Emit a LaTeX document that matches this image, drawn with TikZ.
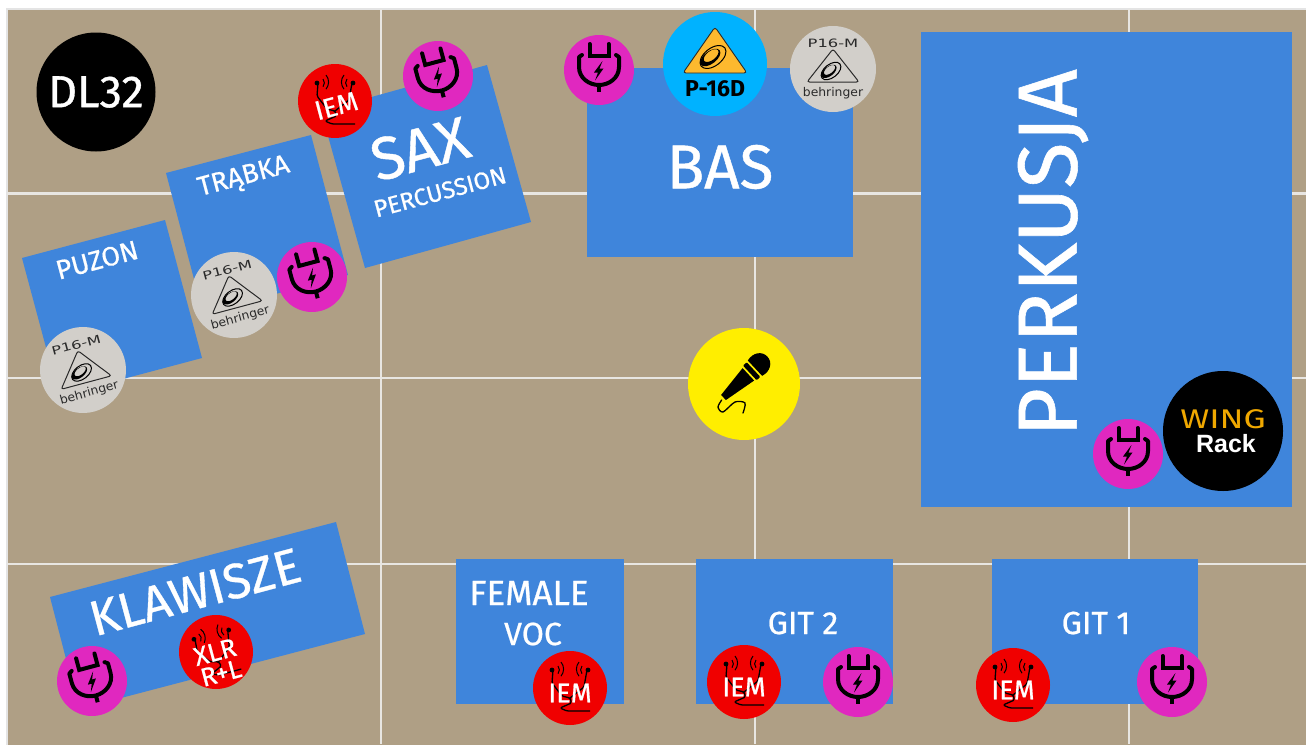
\documentclass[tikz,border=0pt]{standalone}
\usepackage{fontspec}
\setmainfont{Fira Sans}
\newfontfamily\firab[FakeBold=0.7]{Fira Sans}
\newfontfamily\lsans{Liberation Sans}
\newfontfamily\dsans{DejaVu Sans}
\newcommand\fz[1]{\fontsize{#1}{#1}\selectfont}
\definecolor{floorc}{HTML}{AF9F85}
\definecolor{gridc}{HTML}{E8E6E2}
\definecolor{framec}{HTML}{E4E4E4}
\definecolor{bluec}{HTML}{3F85DB}
\definecolor{magc}{HTML}{E028BF}
\definecolor{redc}{HTML}{F00000}
\definecolor{discc}{HTML}{D2CFCA}
\definecolor{cyanc}{HTML}{00B2FF}
\definecolor{yelc}{HTML}{FFEE00}
\definecolor{orangec}{HTML}{FDB92E}
\definecolor{wingc}{HTML}{F0A800}
\definecolor{darkc}{HTML}{2A2A2A}
\tikzset{
  gridline/.style={draw=gridc,line width=2.4pt},
  stagebox/.style={fill=bluec,draw=none},
  stagetext/.style={text=white,inner sep=0pt,font=\firab\fz{#1}},
  round/.style={circle,draw=none,inner sep=0pt,minimum size=#1,transform shape},
  plug/.pic={
    \node[round=70pt,fill=magc] (-disc) at (0,0) {};
    \draw[line width=4pt,line cap=round] (-9.5,-26)--(-9.5,-14)--(9.5,-14)--(9.5,-26);
    \draw[line width=4pt,line join=round,line cap=round] (-17,-15)--(-20,-13)--(-20,-3)
      .. controls (-20,8) and (-10,15) .. (0,15)
      .. controls (10,15) and (20,8) .. (20,-3)--(20,-13)--(17,-15);
    \draw[line width=4pt] (0,15)--(0,22);
    \fill (3.5,-9)--(-5,2.5)--(-1,2.5)--(-4,10.5)--(4.5,-1.5)--(0.5,-1.5)--cycle;
  },
  earbuds/.pic={
    \draw[line width=1.3pt,line join=round,rounded corners=1.5pt] (-17,-18)--(-18,-5)--(-8,8)--(0,10)--(1.5,15)--(-10,20)--(-3,23)--(20,23)
      (17,-18)--(14,-1)--(0,10);
    \fill (-18,-18) circle (2.4pt) (18,-18) circle (2.4pt);
    \draw[line width=1pt] (-12,-22) arc (-40:40:6) (-9,-26) arc (-40:40:11)
      (12,-22) arc (220:140:6) (9,-26) arc (220:140:11);
  },
  iem/.pic={
    \node[round=74pt,fill=redc] (-disc) at (0,0) {};
    \pic {earbuds};
    \node[text=white,font=\firab\fz{27},inner sep=0pt,transform shape] (-label) at (0,5) {IEM};
  },
  cymbal/.pic={
    \draw[line width=1pt,rotate=38] (0,0) ellipse (12 and 7);
    \fill[rotate=38,even odd rule] (-2,-1) ellipse (9.5 and 5) (-.5,-1.8) ellipse (7 and 3.6);
  },
  p16m/.pic={
    \node[round=86pt,fill=discc] (-disc) at (0,0) {};
    \node[text=darkc,inner sep=0pt,xscale=1.42,font=\dsans\fz{11.5},transform shape] (-model) at (0,-26) {P16-M};
    \draw[draw=darkc,line width=1pt,rounded corners=2.5pt] (0,-20)--(26,13)--(-26,13)--cycle;
    \pic[scale=.95] at (-2,2) {cymbal};
    \node[text=darkc,inner sep=0pt,xscale=1.03,font=\dsans\fz{12},transform shape] (-brand) at (0,24) {behringer};
  },
}
\begin{document}
\begin{tikzpicture}[x=1pt,y=-1pt]
\useasboundingbox (0,0) rectangle (1306,744);
\fill[white] (0,0) rectangle (1306,744);
\fill[floorc,draw=framec,line width=2pt] (7,9) rectangle (1308,746);
% grid
\draw[gridline] (381,9)--(381,744) (755,9)--(755,744) (1129,9)--(1129,744);
\draw[gridline] (7,193.5)--(1306,193.5) (7,378)--(1306,378) (7,564)--(1306,564);
% stage boxes
\fill[stagebox] (587,68) rectangle (853,257);
\fill[stagebox] (921,32) rectangle (1292,507);
\fill[stagebox] (456,559) rectangle (624,704);
\fill[stagebox] (696,559) rectangle (893,704);
\fill[stagebox] (992,559) rectangle (1198,704);
\fill[stagebox] (22,258)--(165,220)--(202,358)--(59,396)--cycle;
\fill[stagebox] (166,173)--(311,135)--(348,275)--(203,313)--cycle;
\fill[stagebox] (321,111)--(487,65)--(531,222)--(365,268)--cycle;
\fill[stagebox] (50,597)--(336,522)--(365,634)--(79,709)--cycle;
% labels
\node[stagetext=62] (bas) at (720,167) {BAS};
\node[stagetext=84,rotate=90] (perk) at (1053,253) {PERKUSJA};
\node[stagetext=60,rotate=15] (sax) at (420,149) {SAX};
\node[stagetext=24,rotate=15] (perc) at (440,192) {PERCUSSION};
\node[stagetext=27,rotate=15] (trabka) at (244,178) {TRĄBKA};
\node[stagetext=27,rotate=15] (puzon) at (97,260) {PUZON};
\node[stagetext=49.5,rotate=15] (klaw) at (195,592) {KLAWISZE};
\node[stagetext=35] (female) at (529,593) {FEMALE};
\node[stagetext=32] (voc) at (533,634) {VOC};
\node[stagetext=32] (git2) at (803,623) {GIT 2};
\node[stagetext=32] (git1) at (1096,623) {GIT 1};
% DL32
\node[round=119pt,fill=black,text=white,font=\firab\fz{45}] (dl32) at (96,92) {DL32};
% plugs
\pic[rotate=15] (plugsax) at (438,76) {plug};
\pic[rotate=15] (plugtr) at (312,277) {plug};
\pic (plugbas) at (599,70) {plug};
\pic (plugperk) at (1128,454) {plug};
\pic[rotate=15] (plugkl) at (92,681) {plug};
\pic (pluggit2) at (858,682) {plug};
\pic (pluggit1) at (1172,682) {plug};
% iem
\pic[rotate=15] (iemsax) at (335,101) {iem};
\pic (iemfem) at (570,688) {iem};
\pic (iemgit2) at (744,682) {iem};
\pic (iemgit1) at (1013,685) {iem};
% xlr
\node[round=74pt,fill=redc] (xlr) at (216,652) {};
\pic[rotate=15] at (216,652) {earbuds};
\node[text=white,inner sep=0pt,rotate=15,font=\firab\fz{26}] (xlrlab1) at (215,652) {XLR};
\node[text=white,inner sep=0pt,rotate=15,font=\firab\fz{26}] (xlrlab2) at (221,673) {R+L};
% behringer discs
\pic[rotate=15] (p16a) at (83,370) {p16m};
\pic[rotate=15] (p16b) at (234,295) {p16m};
\pic (p16c) at (833,69) {p16m};
% P-16D
\node[round=104pt,fill=cyanc] (p16d) at (715,64) {};
\fill[orangec,draw=darkc,line width=.9pt,rounded corners=3pt] (715,27)--(747,73)--(683,73)--cycle;
\pic[scale=1.25] at (713,57) {cymbal};
\node[inner sep=0pt,font=\bfseries\fz{23}] (p16dl) at (715,89) {P-16D};
% mic
\node[round=112pt,fill=yelc] (mic) at (744,384) {};
\begin{scope}[shift={(723.5,397.5)},rotate=43]
  \fill (0,-3.5)--(34,-8.5)--(34,8.5)--(0,3.5)--cycle;
  \fill[rounded corners=1pt] (36,-10)--(41,-10)--(41,10)--(36,10)--cycle;
  \fill (43,-10.5) .. controls (52,-13) and (60,-8) .. (60,0)
     .. controls (60,8) and (52,13) .. (43,10.5)--cycle;
\end{scope}
\draw[line width=1.3pt,line cap=round] plot[smooth] coordinates {(721.7,400) (718,407) (723,412) (735,402) (745,403) (743,413)};
% wing
\node[round=120pt,fill=black] (wing) at (1223,431) {};
\node[inner sep=0pt,text=wingc,xscale=1.3,font=\fz{27}] (wingt) at (1223,419) {WING};
\node[inner sep=0pt,text=white,font=\lsans\bfseries\fz{25}] (rack) at (1226,444) {Rack};
\end{tikzpicture}
\end{document}
